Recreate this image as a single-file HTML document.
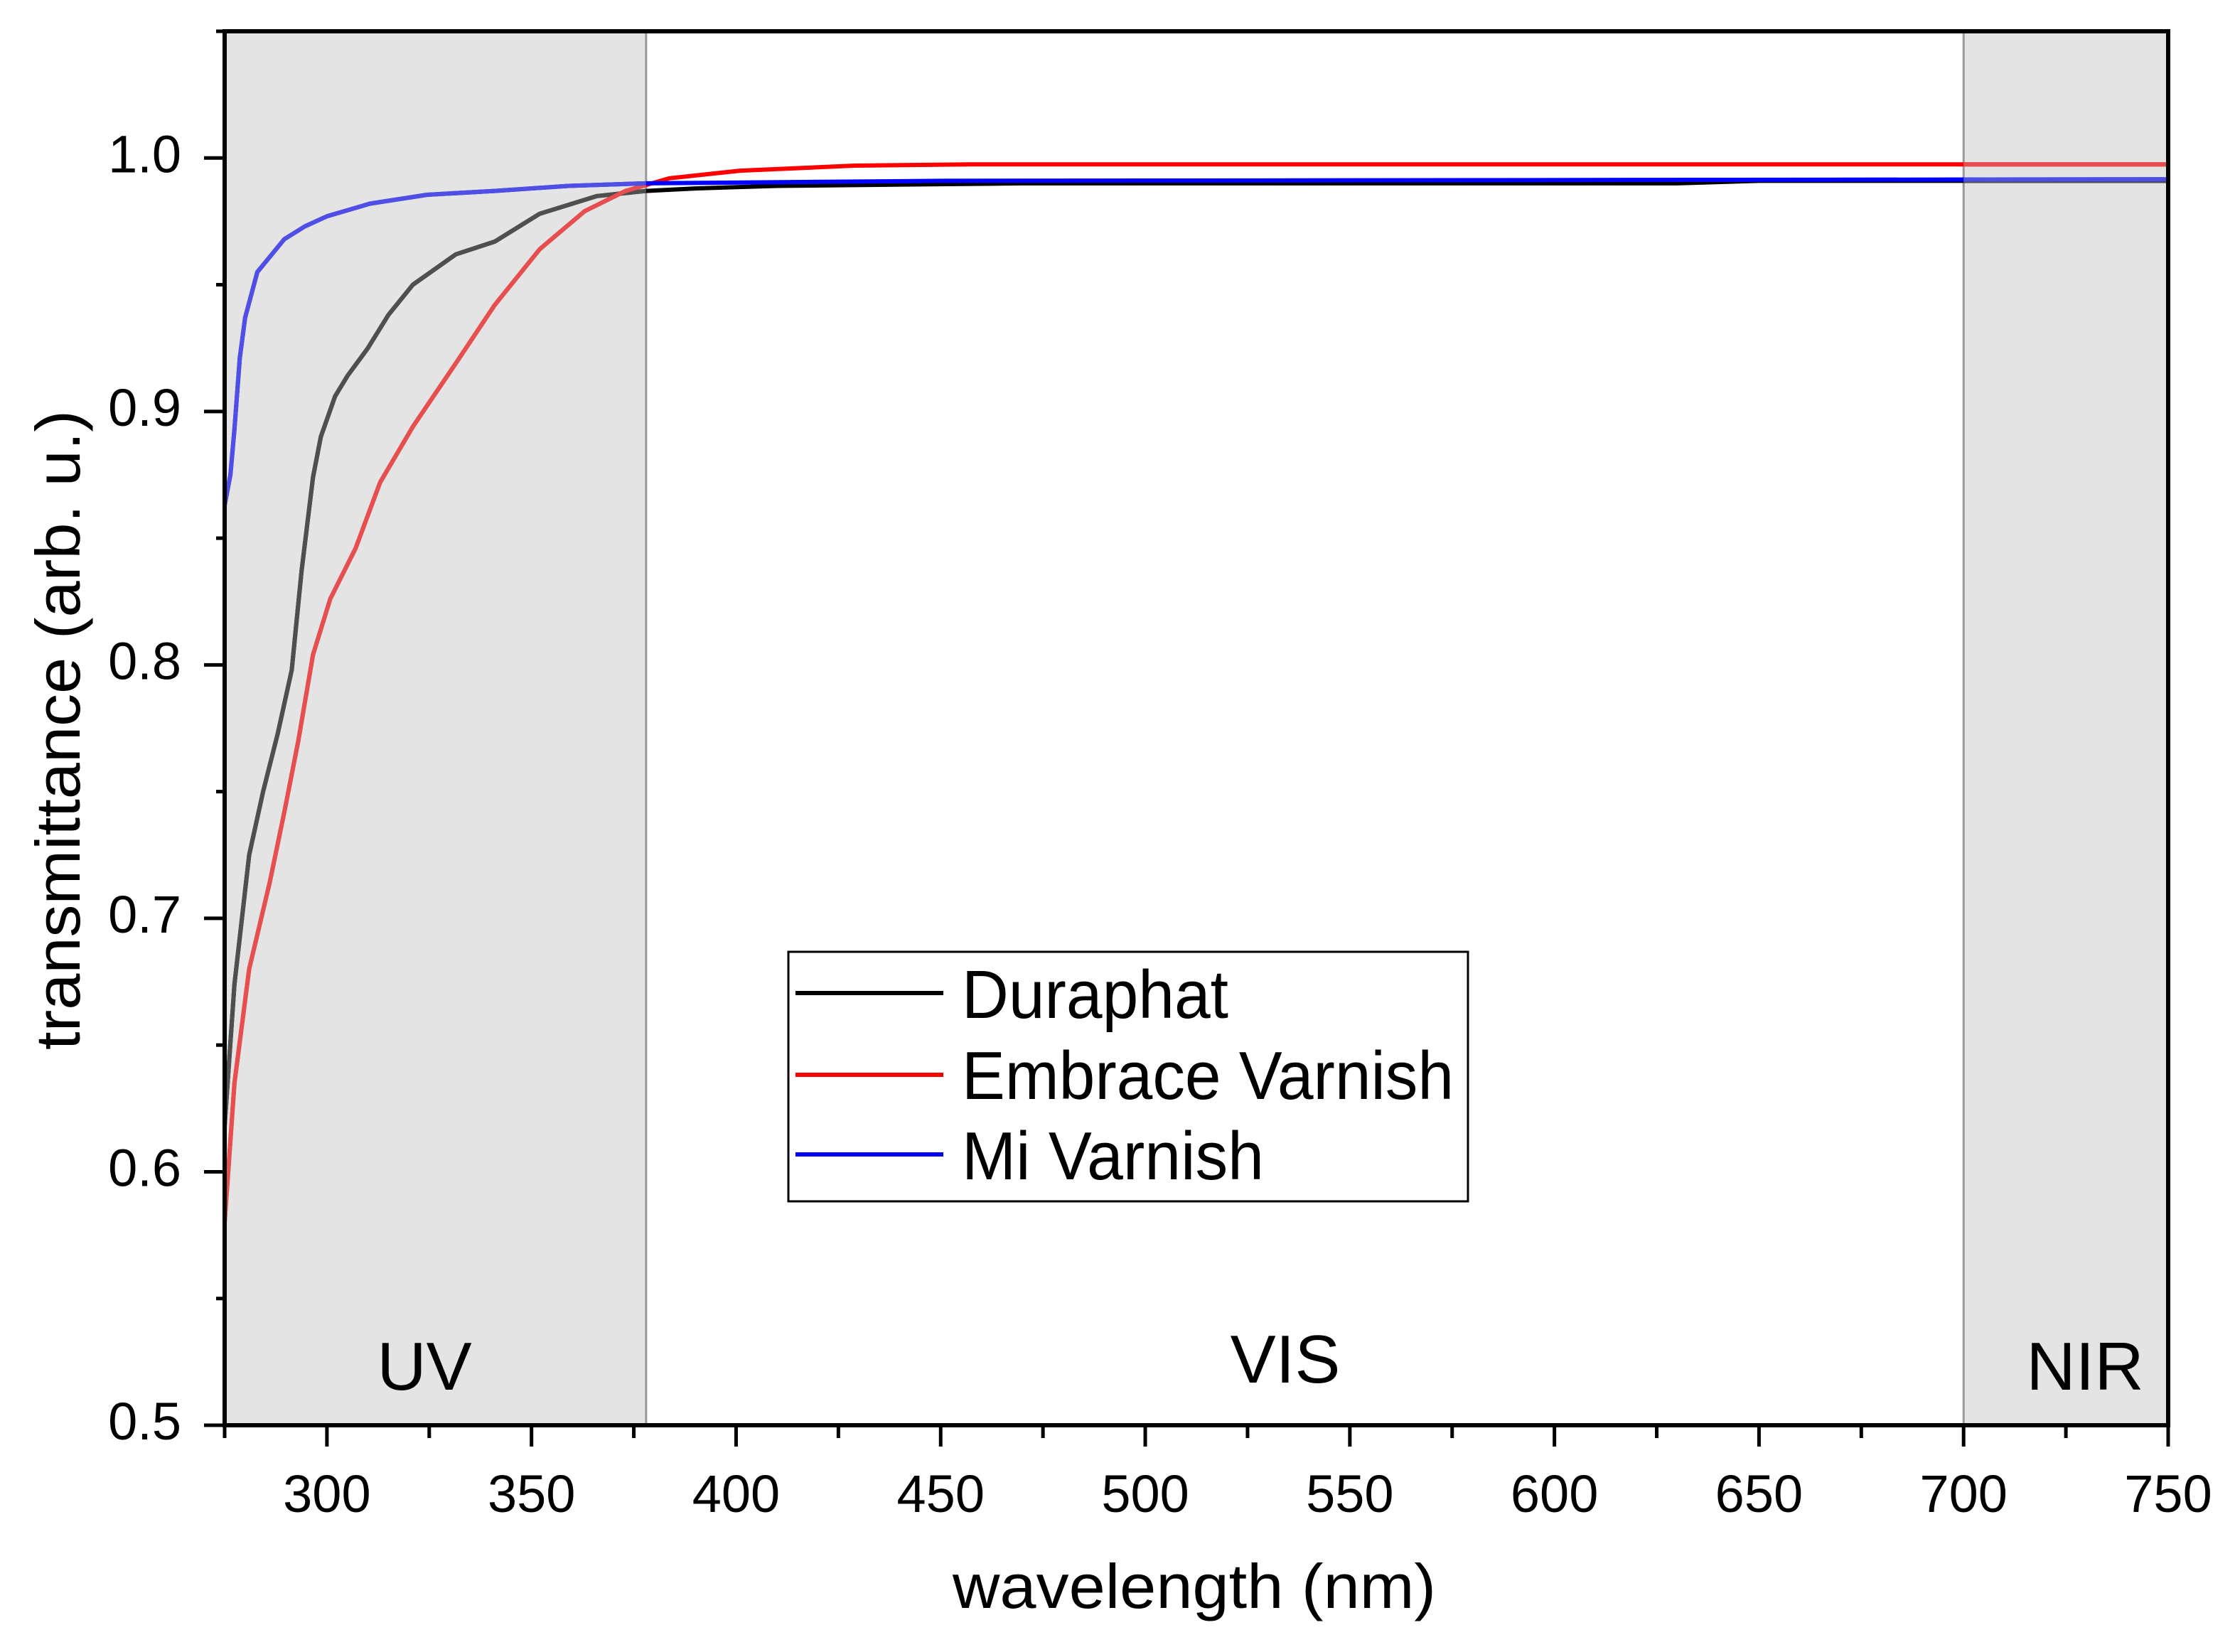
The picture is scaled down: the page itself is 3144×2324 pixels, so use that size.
<!DOCTYPE html>
<html><head><meta charset="utf-8"><style>
html,body{margin:0;padding:0;background:#fff;}
svg{display:block;font-family:"Liberation Sans",Arial,sans-serif;}
</style></head><body>
<svg id="chart" width="3144" height="2324" viewBox="0 0 3144 2324" xmlns="http://www.w3.org/2000/svg">
<defs>
<clipPath id="plotclip"><rect x="316" y="44" width="2734" height="1961"/></clipPath>
<clipPath id="bandclip"><rect id="bc1" x="0" y="44" width="0" height="1961"/><rect id="bc2" x="0" y="44" width="0" height="1961"/></clipPath>
</defs>
<g id="bands"></g>
<g id="series" clip-path="url(#plotclip)"></g>
<g id="axes"></g>
<g id="legend">
<rect x="1109" y="1339" width="956" height="351" fill="#fff" stroke="#000" stroke-width="3"/>
<line x1="1119" y1="1397" x2="1327" y2="1397" stroke="#000" stroke-width="6"/>
<text x="1353" y="1432" font-size="96" textLength="375" lengthAdjust="spacingAndGlyphs">Duraphat</text>
<line x1="1119" y1="1512" x2="1327" y2="1512" stroke="#f00" stroke-width="6"/>
<text x="1353" y="1546" font-size="96" textLength="692" lengthAdjust="spacingAndGlyphs">Embrace Varnish</text>
<line x1="1119" y1="1624" x2="1327" y2="1624" stroke="#00f" stroke-width="6"/>
<text x="1353" y="1659" font-size="96" textLength="425" lengthAdjust="spacingAndGlyphs">Mi Varnish</text>
</g>
<text x="1680" y="2262" font-size="88" text-anchor="middle" textLength="680" lengthAdjust="spacingAndGlyphs">wavelength (nm)</text>
<text transform="translate(112,1027) rotate(-90)" font-size="88" text-anchor="middle" textLength="900" lengthAdjust="spacingAndGlyphs">transmittance (arb. u.)</text>
</svg>
<script>
const xTicks = [300,350,400,450,500,550,600,650,700,750];
const yTicks = [0.5,0.6,0.7,0.8,0.9,1.0];
const bandNames = ["UV","VIS","NIR"];
const bandStarts = [275,378,700];
const bandEnds = [378,700,750];
const seriesNames = ["Duraphat","Embrace Varnish","Mi Varnish"];
const duraphatX = [275,277.4,281,284.4,288,291.4,293.8,296.6,298.5,302,305,310,315,321,331.5,341,352,366,378,390,410,470,630,650,750];
const duraphatY = [0.618,0.674,0.725,0.75,0.773,0.798,0.837,0.874,0.89,0.906,0.914,0.925,0.938,0.95,0.962,0.967,0.978,0.985,0.987,0.988,0.989,0.99,0.99,0.991,0.991];
const embraceX = [275,277.4,281,286,289.6,293,296.6,300.8,307,313,321,331.5,341,352,363,373,383.7,401,429,457,750];
const embraceY = [0.58,0.635,0.68,0.714,0.742,0.77,0.804,0.826,0.846,0.872,0.894,0.919,0.942,0.964,0.979,0.987,0.992,0.995,0.997,0.9975,0.9975];
const miX = [275,276.4,277.4,278.7,280,283,289.6,294.6,300,310.5,324.5,341,359,378,450,750];
const miY = [0.863,0.875,0.893,0.921,0.937,0.955,0.968,0.973,0.977,0.982,0.9855,0.987,0.989,0.990,0.991,0.9916];

const X0=316,X1=3050,Y0=2005,Y1=44;
const xmin=275,xmax=750,ymin=0.5,ymax=1.05;
const sx=v=>X0+(v-xmin)/(xmax-xmin)*(X1-X0);
const sy=v=>Y0-(v-ymin)/(ymax-ymin)*(Y0-Y1);
const NS="http://www.w3.org/2000/svg";
function mk(tag,attrs,parent){const e=document.createElementNS(NS,tag);for(const k in attrs)e.setAttribute(k,attrs[k]);parent.appendChild(e);return e;}

const bands=document.getElementById('bands');
const bandLabelX=[597,1808,2933];
for(let i=0;i<bandNames.length;i++){
  if(bandNames[i]!=="VIS"){
    const r=mk('rect',{x:sx(bandStarts[i]),y:Y1,width:sx(bandEnds[i])-sx(bandStarts[i]),height:Y0-Y1,fill:'#e4e4e4'},bands);
    
    
  }
  const t=mk('text',{x:bandLabelX[i],y:bandNames[i]==="VIS"?1945:1955,'font-size':96,'text-anchor':'middle'},bands);
  t.textContent=bandNames[i];
  
  
}
[378,700].forEach(v=>{const l=mk('line',{x1:sx(v),y1:Y1,x2:sx(v),y2:Y0,stroke:'#999',"stroke-width":3},bands);

});
document.getElementById('bc1').setAttribute('x',sx(275));document.getElementById('bc1').setAttribute('width',sx(378)-sx(275));
document.getElementById('bc2').setAttribute('x',sx(700));document.getElementById('bc2').setAttribute('width',sx(750)-sx(700));

const ser=document.getElementById('series');
const all=[[duraphatX,duraphatY,'#000','#4f4f4f','duraphat'],[embraceX,embraceY,'#f00','#e64f4f','embrace-varnish'],[miX,miY,'#00f','#4f4fe6','mi-varnish']];
all.forEach(s=>{
  const d=s[0].map((x,i)=>(i?'L':'M')+sx(x).toFixed(1)+' '+sy(s[1][i]).toFixed(1)).join(' ');
  const p=mk('path',{d:d,fill:'none',stroke:s[2],'stroke-width':6,'stroke-linejoin':'round'},ser);
  
  
  const p2=mk('path',{d:d,fill:'none',stroke:s[3],'stroke-width':6,'stroke-linejoin':'round','clip-path':'url(#bandclip)'},ser);
  
  
});

const ax=document.getElementById('axes');
const frame=mk('rect',{x:X0,y:Y1,width:X1-X0,height:Y0-Y1,fill:'none',stroke:'#000','stroke-width':6},ax);


for(let v=275;v<=750;v+=25){
  const major=xTicks.includes(v);
  const l=mk('line',{x1:sx(v),y1:Y0,x2:sx(v),y2:Y0+(major?30:18),stroke:'#000','stroke-width':5},ax);
  
  
}
xTicks.forEach(v=>{const t=mk('text',{x:sx(v),y:2127,'font-size':74,'text-anchor':'middle'},ax);t.textContent=v;

});
for(let k=0;k<=11;k++){
  const v=0.5+k*0.05;const major=k%2===0;
  const l=mk('line',{x1:X0-(major?29:12),y1:sy(v),x2:X0,y2:sy(v),stroke:'#000','stroke-width':5},ax);
  
  
}
yTicks.forEach(v=>{const t=mk('text',{x:255,y:sy(v)+20,'font-size':74,'text-anchor':'end'},ax);t.textContent=v.toFixed(1);

});
</script>
</body></html>
